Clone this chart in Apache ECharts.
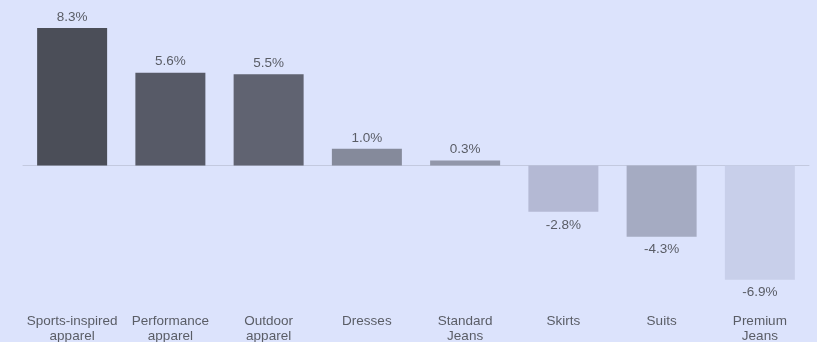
<!DOCTYPE html>
<html>
<head>
<meta charset="utf-8">
<script src="https://cdn.jsdelivr.net/npm/echarts@6/dist/echarts.min.js"></script>
<style>
html,body{margin:0;padding:0;background:#dce3fc;}
#chart{width:817px;height:342px;}
</style>
</head>
<body>
<div id="chart"></div>
<script>
var categories = ['Sports-inspired\napparel', 'Performance\napparel', 'Outdoor\napparel', 'Dresses', 'Standard\nJeans', 'Skirts', 'Suits', 'Premium\nJeans'];
var values = [8.3, 5.6, 5.5, 1.0, 0.3, -2.8, -4.3, -6.9];
var barColors = ['#4b4e58', '#575a67', '#606371', '#858a9b', '#9297aa', '#b4b9d4', '#a5abc2', '#c8cfea'];

var font = "'Liberation Sans', Helvetica, Arial, sans-serif";
var textColor = '#5a5d66';

var seriesData = values.map(function (v, i) {
  return {
    value: v,
    itemStyle: { color: barColors[i] },
    label: { position: v >= 0 ? 'top' : 'bottom', distance: v >= 0 ? 4 : 6 }
  };
});

var chart = echarts.init(document.getElementById('chart'));
chart.setOption({
  backgroundColor: '#dce3fc',
  animation: false,
  grid: { left: 23, right: 8, top: 8, bottom: 44, containLabel: false, outerBoundsMode: 'none' },
  xAxis: [
    {
      type: 'category',
      data: categories,
      axisLine: { show: true, onZero: true, lineStyle: { color: '#c3c9df', width: 1 } },
      axisTick: { show: false },
      axisLabel: { show: false }
    },
    {
      type: 'category',
      data: categories,
      position: 'bottom',
      axisLine: { show: false, onZero: false },
      axisTick: { show: false },
      axisLabel: {
        show: true,
        interval: 0,
        margin: 16,
        color: textColor,
        fontSize: 13.5,
        lineHeight: 15,
        fontFamily: font
      }
    }
  ],
  yAxis: {
    type: 'value',
    min: -8,
    max: 9.5,
    show: false,
    splitLine: { show: false }
  },
  series: [{
    type: 'bar',
    xAxisIndex: 0,
    data: seriesData,
    barWidth: 70,
    label: {
      show: true,
      color: textColor,
      fontSize: 13.5,
      fontFamily: font,
      formatter: function (p) { return p.value.toFixed(1) + '%'; }
    }
  }]
});
</script>
</body>
</html>
